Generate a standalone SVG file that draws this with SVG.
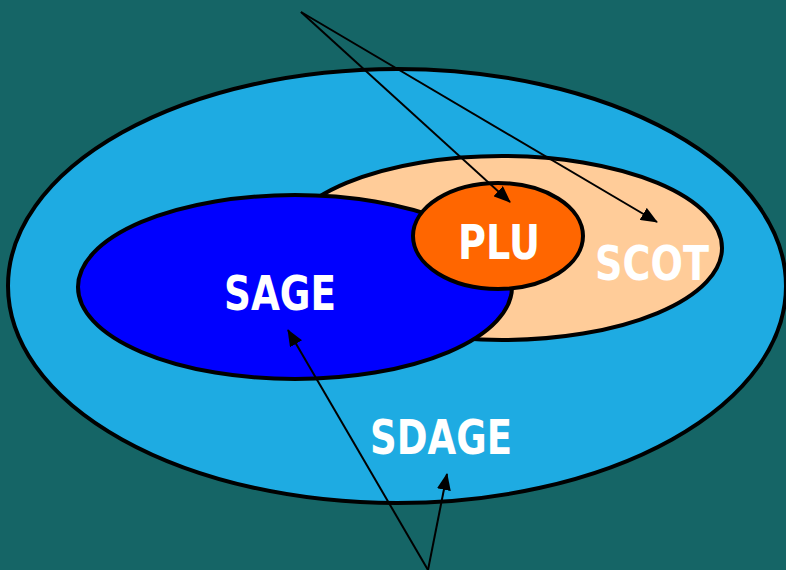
<svg xmlns="http://www.w3.org/2000/svg" width="786" height="570" viewBox="0 0 786 570">
<style>
.shape{stroke:#000;stroke-width:4}
.lbl{font-family:"DejaVu Sans","Liberation Sans",sans-serif;font-weight:bold;font-size:48px;fill:#fff}
.arr{stroke:#000;stroke-width:2;fill:none;marker-end:url(#ah)}
</style>
<defs>
<marker id="ah" markerUnits="userSpaceOnUse" markerWidth="18" markerHeight="14" refX="16" refY="7" orient="auto">
<path d="M0,0 L17,7 L0,14 Z" fill="#000"/>
</marker>
</defs>
<rect width="786" height="570" fill="#156566"/>
<g id="sdage">
<ellipse class="shape" cx="397" cy="286" rx="389" ry="217" fill="#1EABE2"/>
<text class="lbl" x="370" y="454" textLength="142" lengthAdjust="spacingAndGlyphs">SDAGE</text>
</g>
<g id="scot">
<ellipse class="shape" cx="502" cy="248" rx="220" ry="92" fill="#FFCC99"/>
<text class="lbl" x="595" y="280" textLength="114" lengthAdjust="spacingAndGlyphs">SCOT</text>
</g>
<g id="sage">
<ellipse class="shape" cx="295" cy="287" rx="217" ry="92" fill="#0000FF"/>
<text class="lbl" x="224" y="310" textLength="112" lengthAdjust="spacingAndGlyphs">SAGE</text>
</g>
<g id="plu">
<ellipse class="shape" cx="498" cy="236" rx="85" ry="53" fill="#FF6600"/>
<text class="lbl" x="458" y="259" textLength="82" lengthAdjust="spacingAndGlyphs">PLU</text>
</g>
<g id="connectors">
<line class="arr" x1="301" y1="12" x2="510" y2="202"/>
<line class="arr" x1="301" y1="12" x2="657" y2="222"/>
<line class="arr" x1="428" y1="570" x2="288" y2="330"/>
<line class="arr" x1="428" y1="570" x2="447" y2="474"/>
</g>
</svg>
